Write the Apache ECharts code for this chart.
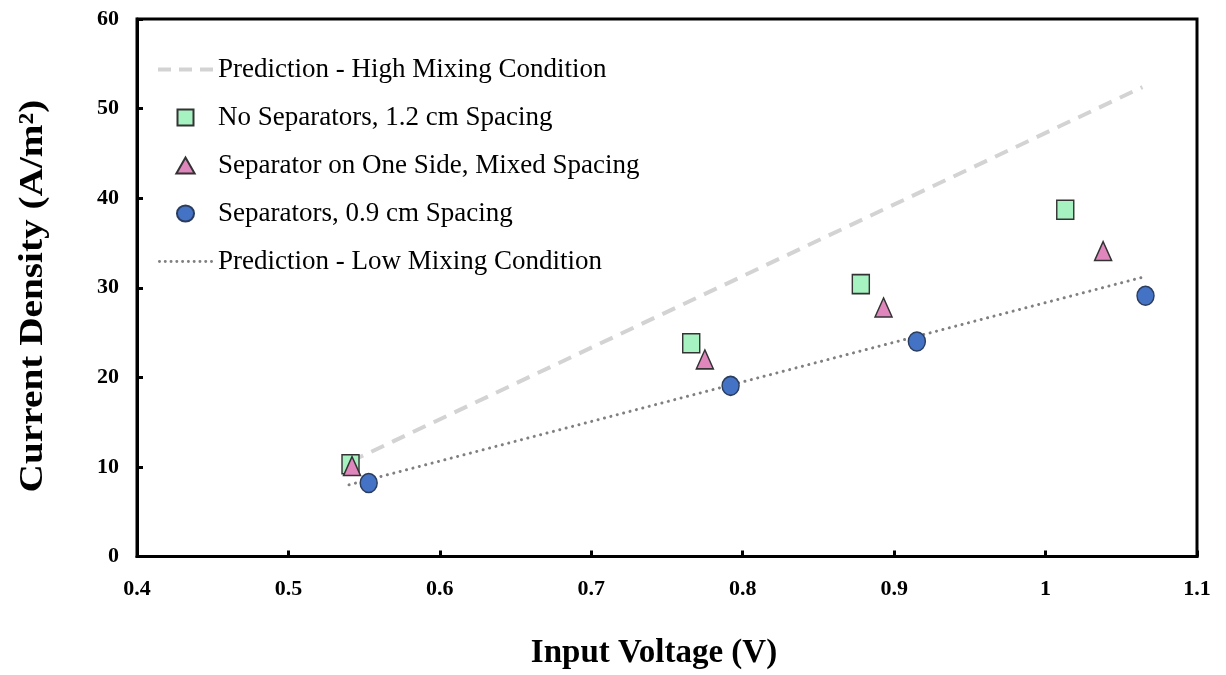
<!DOCTYPE html>
<html>
<head>
<meta charset="utf-8">
<script src="https://cdn.jsdelivr.net/npm/echarts@6/dist/echarts.min.js"></script>
<style>
html,body{margin:0;padding:0;background:#fff;}
#chart{width:1226px;height:675px;}
</style>
</head>
<body>
<div id="chart"></div>
<script>
// ---- data ----
const voltNoSep = [0.541, 0.766, 0.878, 1.013];
const currNoSep = [10.3, 23.8, 30.4, 38.7];

const voltOneSide = [0.542, 0.775, 0.893, 1.038];
const currOneSide = [10.1, 22.0, 27.8, 34.1];

const voltSep = [0.553, 0.792, 0.915, 1.066];
const currSep = [8.2, 19.05, 24.0, 29.1];

const voltHighPred = [0.541, 1.064];
const currHighPred = [10.6, 52.4];

const voltLowPred = [0.540, 1.067];
const currLowPred = [8.0, 31.3];

const seriesNames = [
  'Prediction - High Mixing Condition',
  'No Separators, 1.2 cm Spacing',
  'Separator on One Side, Mixed Spacing',
  'Separators, 0.9 cm Spacing',
  'Prediction - Low Mixing Condition'
];
const xTickLabels = ['0.4','0.5','0.6','0.7','0.8','0.9','1','1.1'];
const yTickLabels = ['0','10','20','30','40','50','60'];
const xTitle = 'Input Voltage (V)';
const yTitle = 'Current Density (A/m²)';

const zip = (xs, ys) => xs.map((x, i) => [x, ys[i]]);
const FONT = '"Liberation Serif", "Times New Roman", serif';

// legend icon shapes
const dashIcon = 'path://M0,0h13v4h-13zM21,0h13v4h-13zM42,0h13v4h-13z';
let dotPath = '';
for (let i = 0; i < 10; i++) {
  const x = i * 5.8;
  dotPath += 'M' + x + ',1.5a1.5,1.5 0 1,0 3,0a1.5,1.5 0 1,0 -3,0z';
}
const dotIcon = 'path://' + dotPath;
const squareIcon = 'path://M0,0H16V16H0Z';
const triIcon = 'path://M8,0L16,14L0,14Z';
const circleIcon = 'path://M8,0A8,7.5,0,1,1,8,15A8,7.5,0,1,1,8,0Z';

const chart = echarts.init(document.getElementById('chart'), null, {renderer: 'canvas'});
chart.setOption({
  animation: false,
  backgroundColor: '#fff',
  grid: {
    left: 137, right: 29, top: 19, bottom: 118.5,
    show: true, borderColor: '#000', borderWidth: 3, backgroundColor: 'transparent'
  },
  legend: {
    data: [
      {name: seriesNames[0], icon: dashIcon, itemStyle: {color: '#d3d3d3', borderWidth: 0}},
      {name: seriesNames[1], icon: squareIcon},
      {name: seriesNames[2], icon: triIcon},
      {name: seriesNames[3], icon: circleIcon},
      {name: seriesNames[4], icon: dotIcon, itemStyle: {color: '#808080', borderWidth: 0}}
    ],
    orient: 'vertical',
    left: 158, top: 56,
    itemWidth: 55, itemHeight: 16,
    itemGap: 21,
    textStyle: {fontFamily: FONT, fontSize: 27, color: '#000'},
    padding: 0
  },
  graphic: [{
    type: 'text', x: 33, y: 296, rotation: Math.PI / 2, scaleX: 1.19,
    style: {text: yTitle, font: 'bold 33px "Liberation Serif", serif', fill: '#000', align: 'center', verticalAlign: 'middle'}
  }],
  xAxis: {
    type: 'value', min: 0.4, max: 1.1, interval: 0.1,
    name: xTitle, nameLocation: 'middle', nameGap: 80,
    nameTextStyle: {fontFamily: FONT, fontSize: 33, fontWeight: 'bold', color: '#000', padding: [0, 26, 0, 0]},
    axisLine: {show: true, lineStyle: {color: '#000', width: 3}},
    axisTick: {show: true, inside: true, length: 6, lineStyle: {color: '#000', width: 3}},
    splitLine: {show: false},
    axisLabel: {
      margin: 22, fontFamily: FONT, fontSize: 22, fontWeight: 'bold', color: '#000',
      formatter: v => xTickLabels[Math.round((v - 0.4) * 10)]
    }
  },
  yAxis: {
    type: 'value', min: 0, max: 60, interval: 10,
    axisLine: {show: true, lineStyle: {color: '#000', width: 3}},
    axisTick: {show: true, inside: true, length: 6, lineStyle: {color: '#000', width: 3}},
    splitLine: {show: false},
    axisLabel: {
      margin: 18, fontFamily: FONT, fontSize: 22, fontWeight: 'bold', color: '#000',
      formatter: v => yTickLabels[Math.round(v / 10)]
    }
  },
  series: [
    {
      name: seriesNames[0], type: 'line', data: zip(voltHighPred, currHighPred),
      symbol: 'none', z: 1,
      lineStyle: {color: '#d3d3d3', width: 4, type: [14, 9]},
      itemStyle: {color: '#d3d3d3'}
    },
    {
      name: seriesNames[4], type: 'line', data: zip(voltLowPred, currLowPred),
      symbol: 'none', z: 1,
      lineStyle: {color: '#808080', width: 3, type: [0.1, 6.5], cap: 'round'},
      itemStyle: {color: '#808080'}
    },
    {
      name: seriesNames[1], type: 'scatter', data: zip(voltNoSep, currNoSep),
      symbol: 'rect', symbolSize: [17, 19], z: 3,
      itemStyle: {color: '#a7f2c1', borderColor: '#333', borderWidth: 1.5, opacity: 1}
    },
    {
      name: seriesNames[2], type: 'scatter', data: zip(voltOneSide, currOneSide),
      symbol: 'triangle', symbolSize: [17, 19], z: 4,
      itemStyle: {color: '#df86bd', borderColor: '#333', borderWidth: 1.5, opacity: 1}
    },
    {
      name: seriesNames[3], type: 'scatter', data: zip(voltSep, currSep),
      symbol: 'circle', symbolSize: [17, 19], z: 5,
      itemStyle: {color: '#4472c4', borderColor: '#2b3d5e', borderWidth: 1.5, opacity: 1}
    }
  ]
});
</script>
</body>
</html>
